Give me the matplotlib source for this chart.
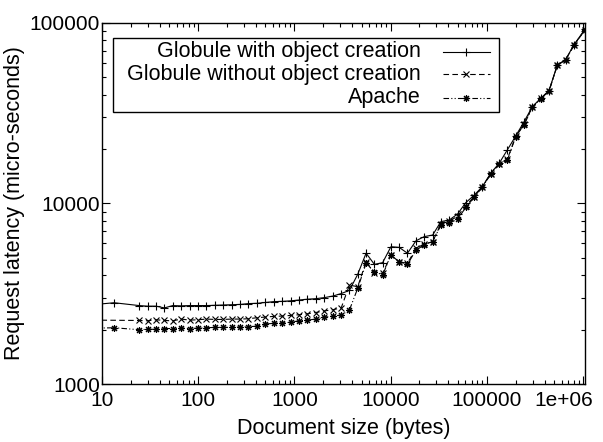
import numpy as np
import matplotlib
matplotlib.use('Agg')
import matplotlib.pyplot as plt
from matplotlib.lines import Line2D
from matplotlib.patches import Rectangle
from matplotlib.ticker import FixedLocator, NullFormatter
from matplotlib.transforms import ScaledTranslation

plt.rcParams['font.family'] = ['Liberation Sans', 'DejaVu Sans']

# ==== data ====
# document sizes (bytes); the first one lies left of the axis and is clipped
sizes = [8, 13.4, 24.4, 29.8, 36.5, 44.6, 54.5, 66.8, 81.7, 99.8, 122, 149, 182,
         224, 274, 334, 409, 500, 611, 748, 916, 1120, 1370, 1670, 2050, 2510,
         3070, 3740, 4560, 5570, 6800, 8280, 10100, 12300, 15000, 18400, 22400,
         27400, 33400, 40700, 49700, 60600, 74000, 90200, 110000, 135000, 164000,
         200000, 244000, 298000, 364000, 444000, 541000, 660000, 807000, 1048576]

globule_obj = [2750, 2820, 2720, 2700, 2700, 2640, 2720, 2710, 2720, 2720, 2720,
               2730, 2740, 2750, 2760, 2790, 2800, 2830, 2860, 2870, 2890, 2920,
               2950, 2970, 3010, 3070, 3170, 3300, 4050, 5300, 4600, 4700, 5760,
               5710, 5300, 6210, 6550, 6680, 7930, 8090, 8730, 10100, 11100, 12400,
               14700, 16700, 19800, 23600, 28300, 34300, 38200, 42100, 58300, 62500,
               75500, 92000]

globule_noobj = [2260, None, 2250, 2240, 2270, 2250, 2240, 2290, 2260, 2270, 2290,
                 2280, 2280, 2290, 2290, 2300, 2330, 2350, 2370, 2380, 2400, 2420,
                 2450, 2490, 2540, 2580, 2640, 3530, 3460, 4750, 4100, 4100, 5180,
                 4750, 4660, 5640, 5960, 6140, 7700, 7950, 8500, 9700, 10900, 12350,
                 14600, 16600, 17600, 23500, 27400, 34100, 38100, 41900, 58100, 62200,
                 75200, 91500]

apache = [2040, 2050, 2000, 2010, 2010, 2030, 2030, 2040, 2030, 2040, 2050, 2060,
          2060, 2060, 2070, 2080, 2090, 2150, 2170, 2180, 2200, 2240, 2260, 2290,
          2340, 2380, 2410, 2570, 3390, 4660, 4190, 4020, 5180, 4750, 4600, 5520,
          5890, 6140, 7580, 7770, 8170, 9500, 10800, 12300, 14500, 16500, 17400,
          23400, 27200, 34000, 38000, 41800, 58000, 62000, 75000, 91000]

labels = ['Globule with object creation', 'Globule without object creation', 'Apache']
xticks = [10, 100, 1000, 10000, 100000, 1000000]
xtick_labels = ['10', '100', '1000', '10000', '100000', '1e+06']
yticks = [1000, 10000, 100000]
ytick_labels = ['1000', '10000', '100000']

styles = [
    dict(linestyle='-', marker='+', ms=6),
    dict(linestyle=(0, (5, 3)), marker='x', ms=4.5),
    dict(linestyle=(0, (5, 2, 1, 2, 1, 2)), marker=(8, 2, 0), ms=5),
]

# ==== plot ====
fig = plt.figure(figsize=(6.03, 4.42), dpi=100)
ax = fig.add_axes([0.169, 0.131, 0.801, 0.8176])

x = np.array(sizes, dtype=float)
for ys, st in zip([globule_obj, globule_noobj, apache], styles):
    y = np.array([np.nan if v is None else v for v in ys], dtype=float)
    ok = ~np.isnan(y)
    ax.plot(x[ok], y[ok], color='black', lw=0.8, mew=0.8, **st)

ax.set_xscale('log')
ax.set_yscale('log')
ax.set_xlim(10, 1048576)
ax.set_ylim(1000, 100000)

ax.xaxis.set_major_locator(FixedLocator(xticks))
ax.set_xticklabels(xtick_labels)
ax.yaxis.set_major_locator(FixedLocator(yticks))
ax.set_yticklabels(ytick_labels)
minor_x = [m * 10.0**e for e in range(1, 7) for m in range(2, 10)]
minor_y = [m * 10.0**e for e in range(3, 5) for m in range(2, 10)]
ax.xaxis.set_minor_locator(FixedLocator(minor_x))
ax.yaxis.set_minor_locator(FixedLocator(minor_y))
ax.xaxis.set_minor_formatter(NullFormatter())
ax.yaxis.set_minor_formatter(NullFormatter())

ax.tick_params(which='both', direction='in', top=True, right=True, labelsize=15,
               width=0.8)
ax.tick_params(which='major', length=6)
ax.tick_params(which='minor', length=3)
ax.tick_params(axis='x', pad=5)
ax.tick_params(axis='y', pad=1.5)
for sp in ax.spines.values():
    sp.set_linewidth(1.0)

# gnuplot pulls the last x label back inside the picture
last = ax.xaxis.get_major_ticks()[-1]
last.label1.set_transform(last.label1.get_transform()
                          + ScaledTranslation(-14 / 72, 0, fig.dpi_scale_trans))

ax.set_xlabel('Document size (bytes)', fontsize=15.5, labelpad=6)
ax.set_ylabel('Request latency (micro-seconds)', fontsize=15.5, labelpad=3)

# ---- gnuplot-like key: text right-aligned, sample to the right ----
ax.add_patch(Rectangle((0.0228, 0.754), 0.799, 0.203, transform=ax.transAxes,
                       fill=False, lw=1.0, ec='black', zorder=5))
rows = [0.920, 0.858, 0.793]
for lab, st, ry in zip(labels, styles, rows):
    ax.text(0.660, ry, lab, transform=ax.transAxes, ha='right', va='center',
            fontsize=15.5, zorder=6)
    ax.add_line(Line2D([0.706, 0.803], [ry, ry], transform=ax.transAxes,
                       color='black', lw=0.8, linestyle=st['linestyle'], zorder=6))
    ax.add_line(Line2D([0.7545], [ry], transform=ax.transAxes, color='black',
                       marker=st['marker'], ms=st['ms'], mew=0.8, linestyle='none',
                       zorder=6))

fig.savefig('out.png', dpi=100)
